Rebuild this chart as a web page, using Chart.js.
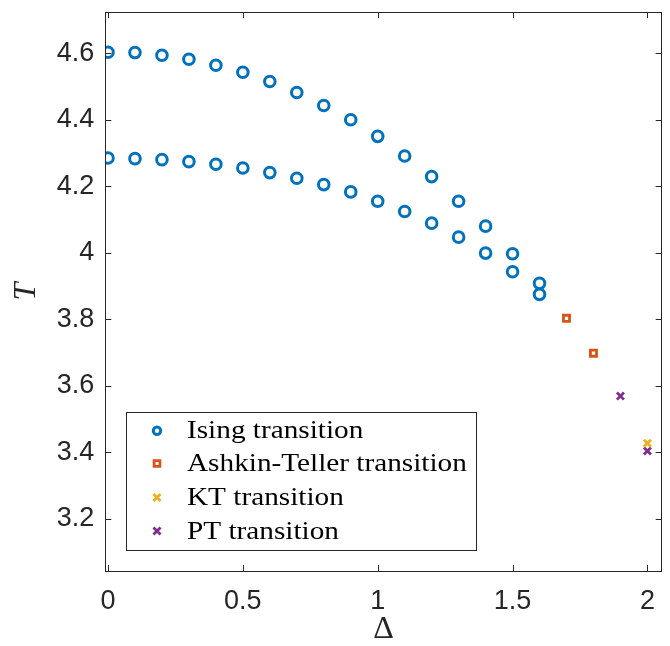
<!DOCTYPE html>
<html>
<head>
<meta charset="utf-8">
<script src="https://cdn.jsdelivr.net/npm/chart.js@4.4.1/dist/chart.umd.min.js"></script>
<style>
html,body{margin:0;padding:0;background:#fff;}
#wrap{width:670px;height:646px;position:relative;}
</style>
</head>
<body>
<div id="wrap"><canvas id="c" width="670" height="646"></canvas></div>
<script>
// ---- data ----
const isingDelta = [0,0.1,0.2,0.3,0.4,0.5,0.6,0.7,0.8,0.9,1.0,1.1,1.2,1.3,1.4,1.5,1.6];
const isingUpperT = [4.603,4.602,4.594,4.582,4.564,4.543,4.515,4.482,4.443,4.400,4.350,4.291,4.229,4.155,4.080,3.997,3.908];
const isingLowerT = [4.285,4.283,4.280,4.274,4.266,4.255,4.241,4.224,4.205,4.183,4.155,4.124,4.089,4.047,3.999,3.943,3.875];
const atDelta = [1.7,1.8];
const atT = [3.803,3.698];
const ktDelta = [2.0];
const ktT = [3.427];
const ptDelta = [1.9,2.0];
const ptT = [3.569,3.404];
const xTicks = [0,0.5,1,1.5,2];
const yTicks = [3.2,3.4,3.6,3.8,4,4.2,4.4,4.6];
const seriesNames = ['Ising transition','Ashkin-Teller transition','KT transition','PT transition'];

const toPts = (xs, ys) => xs.map((x,i)=>({x:x,y:ys[i]}));
const isingPts = toPts(isingDelta, isingUpperT).concat(toPts(isingDelta, isingLowerT));

const BLUE='#0072BD', ORANGE='#D95319', YELLOW='#EDB120', PURPLE='#7E2F8E';
const AX='#262626';

const frameTicks = {
  id:'frameTicks',
  afterDraw(chart){
    const ctx=chart.ctx, a=chart.chartArea, xs=chart.scales.x, ys=chart.scales.y;
    const L=6;
    ctx.save();
    ctx.strokeStyle=AX; ctx.lineWidth=1;
    ctx.strokeRect(Math.round(a.left)+0.5, Math.round(a.top)+0.5, Math.round(a.right-a.left), Math.round(a.bottom-a.top));
    ctx.beginPath();
    xTicks.forEach(v=>{
      const px=Math.round(xs.getPixelForValue(v))+0.5;
      ctx.moveTo(px,a.bottom); ctx.lineTo(px,a.bottom-L);
      ctx.moveTo(px,a.top); ctx.lineTo(px,a.top+L);
    });
    yTicks.forEach(v=>{
      const py=Math.round(ys.getPixelForValue(v))+0.5;
      ctx.moveTo(a.left,py); ctx.lineTo(a.left+L,py);
      ctx.moveTo(a.right,py); ctx.lineTo(a.right-L,py);
    });
    ctx.stroke();
    ctx.restore();
  }
};

const boxLegend = {
  id:'boxLegend',
  afterDraw(chart){
    const ctx=chart.ctx;
    const bx=126.5, by=412.5, bw=350, bh=138;
    ctx.save();
    ctx.fillStyle='#fff';
    ctx.fillRect(bx,by,bw,bh);
    ctx.strokeStyle=AX; ctx.lineWidth=1;
    ctx.strokeRect(bx,by,bw,bh);
    const rows=[430.7,463.5,497.5,531];
    chart.data.datasets.forEach((ds,i)=>{
      const y=rows[i];
      ctx.strokeStyle=ds.borderColor;
      ctx.fillStyle=ds.backgroundColor;
      ctx.lineWidth=ds.borderWidth;
      Chart.helpers.drawPoint(ctx,{pointStyle:ds.pointStyle,radius:ds.legendRadius,borderWidth:ds.borderWidth,rotation:0},157,y);
      ctx.save();
      ctx.translate(187,y+1);
      ctx.scale(1.17,1);
      ctx.font='25px "Liberation Serif", "Times New Roman", serif';
      ctx.textBaseline='middle';
      ctx.textAlign='left';
      ctx.fillStyle='#000';
      ctx.fillText(seriesNames[i],0,0);
      ctx.restore();
    });
    ctx.restore();
  }
};

function zeroPad(s){ s.paddingTop=0; s.paddingBottom=0; s.paddingLeft=0; s.paddingRight=0; }

new Chart(document.getElementById('c'),{
  type:'scatter',
  data:{datasets:[
    {label:seriesNames[0],data:isingPts,pointStyle:'circle',pointRadius:5.3,legendRadius:3.7,borderWidth:3,borderColor:BLUE,backgroundColor:'rgba(0,0,0,0)'},
    {label:seriesNames[1],data:toPts(atDelta,atT),pointStyle:'rect',pointRadius:4.3,legendRadius:4.1,borderWidth:2.8,borderColor:ORANGE,backgroundColor:'#fff'},
    {label:seriesNames[2],data:toPts(ktDelta,ktT),pointStyle:'crossRot',pointRadius:5,legendRadius:5,borderWidth:2.8,borderColor:YELLOW,backgroundColor:YELLOW},
    {label:seriesNames[3],data:toPts(ptDelta,ptT),pointStyle:'crossRot',pointRadius:5,legendRadius:5,borderWidth:2.8,borderColor:PURPLE,backgroundColor:PURPLE}
  ]},
  options:{
    responsive:false,
    animation:false,
    layout:{padding:{top:12,right:5,left:0,bottom:0}},
    plugins:{legend:{display:false},tooltip:{enabled:false}},
    elements:{point:{hoverRadius:5}},
    scales:{
      x:{
        type:'linear',min:-0.01,max:2.053,
        afterBuildTicks(s){ s.ticks = xTicks.map(v=>({value:v})); },
        afterFit(s){ s.height=75; zeroPad(s); },
        grid:{display:false,drawTicks:false},
        border:{display:false},
        ticks:{padding:14,color:AX,font:{family:'"Liberation Sans", Arial, sans-serif',size:27},callback:v=>String(v),maxRotation:0},
        title:{display:true,text:'Δ',color:AX,font:{family:'"Liberation Serif", serif',size:32,lineHeight:1},padding:{top:0,bottom:0}}
      },
      y:{
        type:'linear',min:3.043,max:4.724,
        afterBuildTicks(s){ s.ticks = yTicks.map(v=>({value:v})); },
        afterFit(s){ s.width=105.3; zeroPad(s); },
        grid:{display:false,drawTicks:false},
        border:{display:false},
        ticks:{padding:11,color:AX,font:{family:'"Liberation Sans", Arial, sans-serif',size:27},callback:v=>String(v)},
        title:{display:true,text:'T',color:AX,font:{family:'"Liberation Serif", serif',size:32,style:'italic',lineHeight:1.2},padding:{top:7,bottom:0}}
      }
    }
  },
  plugins:[frameTicks,boxLegend]
});
</script>
</body>
</html>
